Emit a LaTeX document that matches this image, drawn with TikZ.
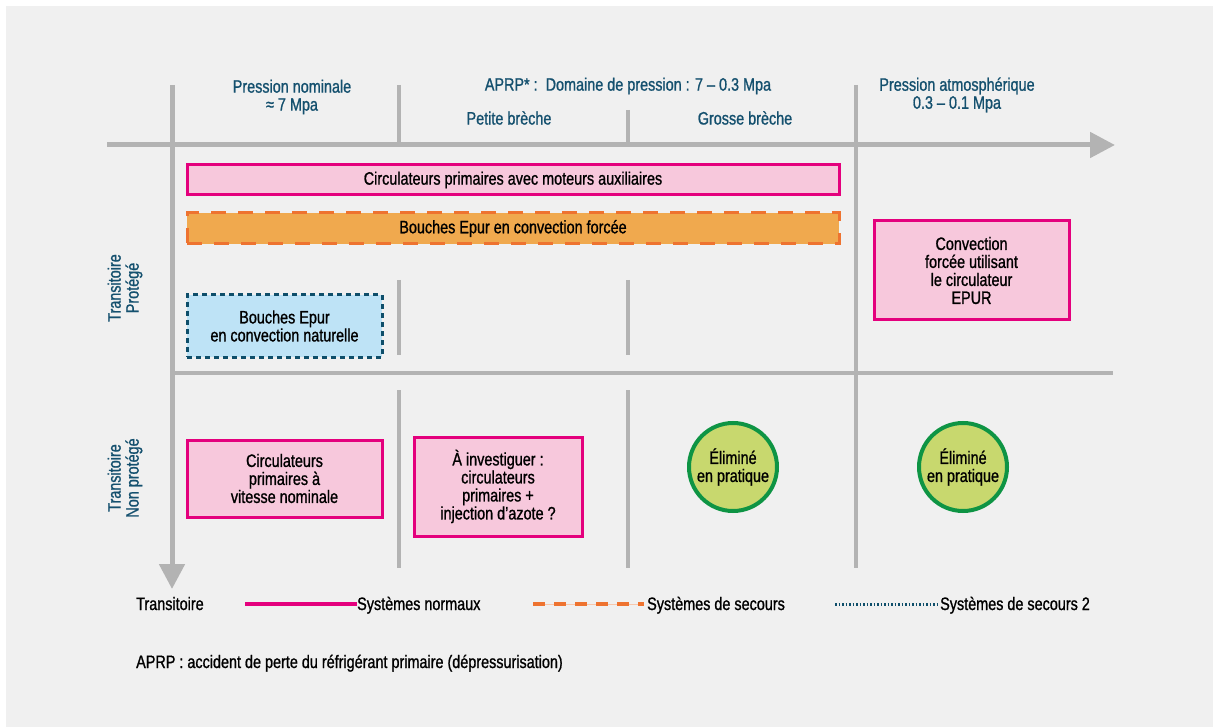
\documentclass[tikz,border=0pt]{standalone}
\usepackage{fontspec}
\setmainfont{Liberation Sans}[FakeStretch=0.8, FakeBold=1]
\usetikzlibrary{arrows.meta}
\definecolor{fond}{HTML}{F0F0F0}
\definecolor{axegris}{HTML}{B3B3B3}
\definecolor{bleutitre}{HTML}{14506E}
\definecolor{rose}{HTML}{E4007D}
\definecolor{roseclair}{HTML}{F7C8DC}
\definecolor{orange}{HTML}{EE7330}
\definecolor{orangeclair}{HTML}{F0A94E}
\definecolor{bleu}{HTML}{0E4E6A}
\definecolor{bleuclair}{HTML}{BEE3F6}
\definecolor{vert}{HTML}{0E9444}
\definecolor{vertclair}{HTML}{C8D86E}
\newcommand{\diagfont}{\fontsize{18}{18}\selectfont}
\tikzset{
  axe/.style={axegris, line width=5pt, -{Triangle[length=25pt, width=25pt]}},
  sep/.style={axegris, line width=4pt},
  entete/.style={text=bleutitre, align=center, font=\diagfont, inner sep=0pt},
  texte/.style={align=center, font=\diagfont, inner sep=0pt},
  normalbox/.style={texte, draw=rose, fill=roseclair, line width=3pt},
  secoursbox/.style={texte, draw=orange, fill=orangeclair, line width=3pt, dash pattern=on 15pt off 12pt},
  secoursdeuxbox/.style={texte, draw=bleu, fill=bleuclair, line width=3pt, dash pattern=on 5pt off 4pt},
  elimine/.style={texte, circle, draw=vert, fill=vertclair, line width=4pt, minimum size=88pt}
}
\begin{document}
\begin{tikzpicture}[x=1pt, y=-1pt]
\useasboundingbox (0,0) rectangle (1213,727);
\fill[white] (0,0) rectangle (1213,727);
\fill[fond] (6,6) rectangle (1213,727);
% axes
\coordinate (hdeb) at (107,145);
\coordinate (hfin) at (1115,145);
\coordinate (vdeb) at (172,85);
\coordinate (vfin) at (172,589);
\coordinate (mdeb) at (172,373);
\coordinate (mfin) at (1113,373);
\draw[axe] (hdeb) -- (hfin);
\draw[axe] (vdeb) -- (vfin);
\draw[sep] (mdeb) -- (mfin);
\foreach \x/\ya/\yb in {399/85/143, 628/110/143, 856/85/568, 399/280/355, 628/280/355, 399/390/568, 628/390/568}
  \draw[sep] (\x,\ya) -- (\x,\yb);
% en-tetes
\node[entete] (nominale) at (292,97) {Pression nominale\\≈ 7 Mpa};
\node[entete] (aprp) at (628,86) {APRP* :\ \ Domaine de pression : 7 – 0.3 Mpa};
\node[entete] (petite) at (509,118) {Petite brèche};
\node[entete] (grosse) at (745,118) {Grosse brèche};
\node[entete] (atmo) at (957,95) {Pression atmosphérique\\0.3 – 0.1 Mpa};
\node[entete, rotate=90] (protege) at (125,288) {Transitoire\\Protégé};
\node[entete, rotate=90] (nonprotege) at (125,478) {Transitoire\\Non protégé};
% systemes
\node[normalbox, minimum width=652pt, minimum height=30pt] (auxiliaires) at (513,180) {Circulateurs primaires avec moteurs auxiliaires};
\node[secoursbox, minimum width=652pt, minimum height=31pt] (forcee) at (513,228.5) {Bouches Epur en convection forcée};
\node[secoursdeuxbox, minimum width=195pt, minimum height=62pt] (naturelle) at (284.5,326) {Bouches Epur\\en convection naturelle};
\node[normalbox, minimum width=195pt, minimum height=99pt] (epur) at (971.5,270.5) {Convection\\forcée utilisant\\le circulateur\\EPUR};
\node[normalbox, minimum width=195pt, minimum height=77pt] (vitesse) at (284.5,478.5) {Circulateurs\\primaires à\\vitesse nominale};
\node[normalbox, minimum width=168pt, minimum height=99pt] (azote) at (498,486.5) {À investiguer :\\circulateurs\\primaires +\\injection d’azote ?};
\node[elimine] (elimgrosse) at (733,467) {Éliminé\\en pratique};
\node[elimine] (elimatmo) at (963,467) {Éliminé\\en pratique};
% legende
\node[texte, anchor=base west] (transitoire) at (136,610) {Transitoire};
\coordinate (lnormaux) at (245,604);
\node[texte, anchor=base west] (normaux) at (357,610) {Systèmes normaux};
\coordinate (lsecours) at (533,604);
\node[texte, anchor=base west] (secours) at (647,610) {Systèmes de secours};
\coordinate (lsecoursdeux) at (835,604);
\node[texte, anchor=base west] (secoursdeux) at (940,610) {Systèmes de secours 2};
\draw[rose, line width=4pt] (lnormaux) -- (lnormaux -| normaux.west);
\draw[orange!40, line width=1pt] (lsecours) -- ([xshift=-3pt]lsecours -| secours.west);
\draw[orange, line width=4pt, dash pattern=on 12pt off 9pt] (lsecours) -- ([xshift=-3pt]lsecours -| secours.west);
\draw[bleu, line width=3pt, dash pattern=on 1.5pt off 2pt] (lsecoursdeux) -- ([xshift=-2pt]lsecoursdeux -| secoursdeux.west);
\node[texte, anchor=base west] (note) at (136,668) {APRP : accident de perte du réfrigérant primaire (dépressurisation)};
\end{tikzpicture}
\end{document}
